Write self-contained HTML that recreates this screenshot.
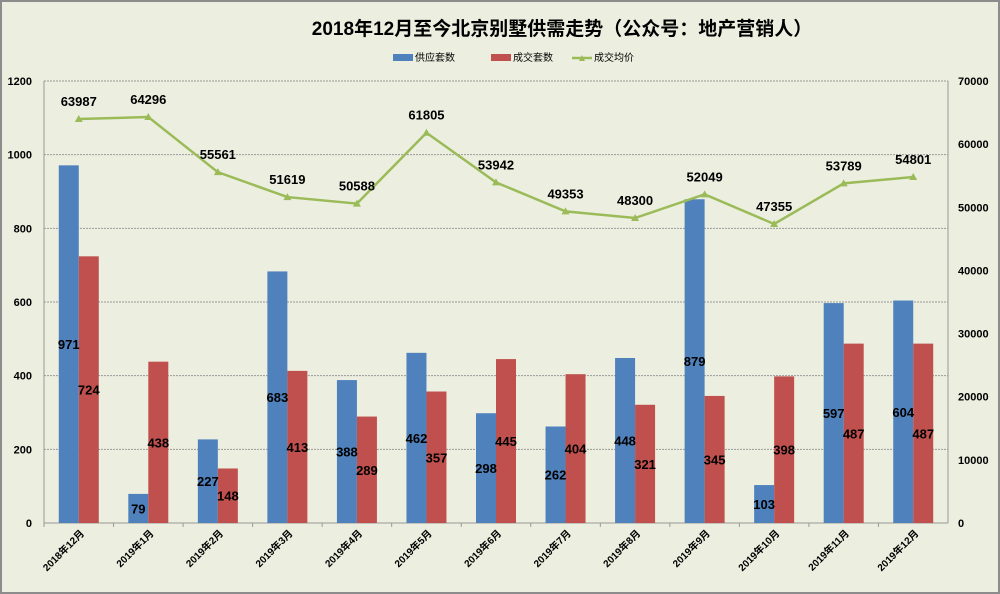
<!DOCTYPE html>
<html><head><meta charset="utf-8"><style>
body{margin:0;background:#fff}
svg{display:block;font-family:"Liberation Sans","Noto Sans CJK SC",sans-serif}
</style></head><body>
<svg id="c" width="1000" height="594">
<rect x="1" y="1" width="998" height="592" fill="#ecefe0" stroke="#8c8c8c" stroke-width="2"/>
<text x="562" y="35" font-size="19" font-weight="bold" text-anchor="middle">2018年12月至今北京别墅供需走势（公众号：地产营销人）</text>
<g font-size="10">
<rect x="393" y="54" width="20" height="7" fill="#4f81bd"/>
<text x="415" y="61">供应套数</text>
<rect x="491" y="54" width="20" height="7" fill="#c0504d"/>
<text x="513" y="61">成交套数</text>
<line x1="572" y1="58" x2="592" y2="58" stroke="#9bbb59" stroke-width="2.5"/>
<path d="M579,61 L582,55 L585,61Z" fill="#9bbb59"/>
<text x="594" y="61">成交均价</text>
</g>
<g id="g"></g>
</svg>
<script>
const categories=["2018年12月","2019年1月","2019年2月","2019年3月","2019年4月","2019年5月","2019年6月","2019年7月","2019年8月","2019年9月","2019年10月","2019年11月","2019年12月"];
const supply=[971,79,227,683,388,462,298,262,448,879,103,597,604];
const deals=[724,438,148,413,289,357,445,404,321,345,398,487,487];
const price=[63987,64296,55561,51619,50588,61805,53942,49353,48300,52049,47355,53789,54801];
const leftTicks=[0,200,400,600,800,1000,1200];
const rightTicks=[0,10000,20000,30000,40000,50000,60000,70000];
const NS="http://www.w3.org/2000/svg",g=document.getElementById('g');
const X0=44,X1=948,Y0=523,Y1=81,cw=(X1-X0)/categories.length;
const yL=v=>Y0-(v/1200)*(Y0-Y1), yR=v=>Y0-(v/70000)*(Y0-Y1), cx=i=>X0+cw*(i+0.5);
function el(t,a,txt){const e=document.createElementNS(NS,t);for(const k in a)e.setAttribute(k,a[k]);if(txt!=null)e.textContent=txt;g.appendChild(e);return e;}
leftTicks.forEach(v=>{
 if(v>0){const l=el('line',{x1:X0,x2:X1,y1:yL(v),y2:yL(v),stroke:'#999','stroke-dasharray':'2,1'});
 }
 const t=el('text',{x:32,y:yL(v)+4,'font-size':11,'font-weight':'bold','text-anchor':'end'},v);
 
});
rightTicks.forEach(v=>{
 const t=el('text',{x:958,y:yR(v)+4,'font-size':11,'font-weight':'bold'},v);
 
});
let a=el('line',{x1:X0,x2:X0,y1:Y1,y2:Y0,stroke:'#999'});
a=el('line',{x1:X1,x2:X1,y1:Y1,y2:Y0,stroke:'#999'});
a=el('line',{x1:X0,x2:X1,y1:Y0,y2:Y0,stroke:'#999'});
categories.forEach((c,i)=>{
 const x=cx(i);
 const b=el('rect',{x:x-20,y:yL(supply[i]),width:20,height:Y0-yL(supply[i]),fill:'#4f81bd'});
 
 const r=el('rect',{x:x,y:yL(deals[i]),width:20,height:Y0-yL(deals[i]),fill:'#c0504d'});
 
 const tk=el('line',{x1:X0+cw*i,x2:X0+cw*i,y1:Y0,y2:Y0+4,stroke:'#999'});
 
 const lb=el('text',{x:x+6,y:534,'font-size':10,'font-weight':'bold','text-anchor':'end',transform:`rotate(-45 ${x+6} 534)`},c);
 
});
categories.forEach((c,i)=>{
 const x=cx(i);
 const t1=el('text',{x:x-10,y:(yL(supply[i])+Y0)/2+5,'font-size':13,'font-weight':'bold','text-anchor':'middle'},supply[i]);
 
 const t2=el('text',{x:x+10,y:(yL(deals[i])+Y0)/2+5,'font-size':13,'font-weight':'bold','text-anchor':'middle'},deals[i]);
 
});
const pl=el('polyline',{points:price.map((v,i)=>cx(i)+','+yR(v)).join(' '),fill:'none',stroke:'#9bbb59','stroke-width':2.5});

price.forEach((v,i)=>{
 const x=cx(i),y=yR(v);
 const m=el('path',{d:`M${x-4},${y+3} L${x},${y-4} L${x+4},${y+3}Z`,fill:'#9bbb59'});
 
 const t=el('text',{x:x,y:y-13,'font-size':13,'font-weight':'bold','text-anchor':'middle'},v);
 
});
</script>
</body></html>
